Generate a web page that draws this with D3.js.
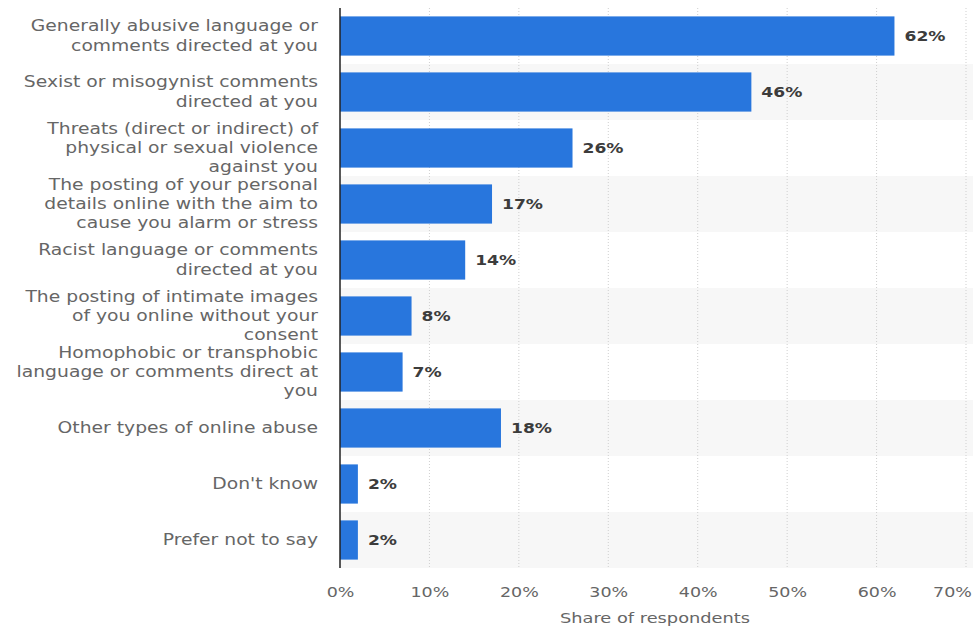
<!DOCTYPE html>
<html><head><meta charset="utf-8">
<script src="https://cdn.jsdelivr.net/npm/d3@7"></script>
<style>body{margin:0;background:#fff;}svg{display:block;}</style>
</head><body>
<svg id="chart" width="973" height="629"></svg>
<script>
const categories = [
  ["Generally abusive language or","comments directed at you"],
  ["Sexist or misogynist comments","directed at you"],
  ["Threats (direct or indirect) of","physical or sexual violence","against you"],
  ["The posting of your personal","details online with the aim to","cause you alarm or stress"],
  ["Racist language or comments","directed at you"],
  ["The posting of intimate images","of you online without your","consent"],
  ["Homophobic or transphobic","language or comments direct at","you"],
  ["Other types of online abuse"],
  ["Don't know"],
  ["Prefer not to say"]
];
const values = [62, 46, 26, 17, 14, 8, 7, 18, 2, 2];
const tickValues = [0, 10, 20, 30, 40, 50, 60, 70];
const axisTitle = "Share of respondents";

const svg = d3.select("#chart");
const margin = {left: 340, right: 7, top: 8, bottom: 61};
const W = 973, H = 629;
const SX = 1.25; // horizontal glyph stretch seen in reference
const x = d3.scaleLinear().domain([0, 70]).range([margin.left, W - margin.right]);
const y = d3.scaleBand().domain(d3.range(categories.length)).range([margin.top, H - margin.bottom]).paddingInner(0.3).paddingOuter(0.15);
const yRow = d3.scaleBand().domain(d3.range(categories.length)).range([margin.top, H - margin.bottom]);
const font = "'DejaVu Sans', Verdana, sans-serif";

// alternating row backgrounds
svg.append("g").selectAll("rect").data(values).join("rect")
  .attr("x", margin.left).attr("width", W - margin.left)
  .attr("y", (d,i) => yRow(i)).attr("height", yRow.bandwidth())
  .attr("fill", (d,i) => i % 2 ? "#f7f7f7" : "#ffffff");

// gridlines
svg.append("g").selectAll("line").data(tickValues.slice(1)).join("line")
  .attr("x1", d => x(d)).attr("x2", d => x(d))
  .attr("y1", margin.top).attr("y2", H - margin.bottom)
  .attr("stroke", "#cfcfcf").attr("stroke-width", 1).attr("stroke-dasharray", "1,2");

// bars
svg.append("g").selectAll("rect").data(values).join("rect")
  .attr("x", x(0)).attr("y", (d,i) => y(i))
  .attr("width", d => x(d) - x(0)).attr("height", y.bandwidth())
  .attr("fill", "#2876dd");

// value labels
svg.append("g").selectAll("text").data(values).join("text")
  .attr("transform", (d,i) => `translate(${x(d) + 10},${y(i) + y.bandwidth()/2}) scale(${SX * 0.98},1)`)
  .attr("dy", "0.35em")
  .attr("font-family", font).attr("font-size", 14).attr("font-weight", "bold")
  .attr("fill", "#3c3c3c")
  .text(d => d + "%");

// category labels
const lab = svg.append("g").selectAll("text").data(categories).join("text")
  .attr("font-family", font).attr("font-size", 15).attr("fill", "#666")
  .attr("text-anchor", "end");
lab.each(function(lines, i){
  const lh = lines.length > 2 ? 18.8 : 20.3;
  const cy = yRow(i) + yRow.bandwidth()/2;
  const start = cy - (lines.length - 1) * lh / 2;
  d3.select(this).attr("transform", `translate(318,${start}) scale(${SX},1)`);
  d3.select(this).selectAll("tspan").data(lines).join("tspan")
    .attr("x", 0).attr("y", (d,j) => j*lh).attr("dy", "0.35em").text(d => d);
});

// x axis
const xAxis = d3.axisBottom(x).tickValues(tickValues).tickFormat(d => d + "%").tickSize(0).tickPadding(0);
const ax = svg.append("g").attr("transform", `translate(0,${H - margin.bottom})`).call(xAxis);
ax.select(".domain").remove();
ax.selectAll(".tick text")
  .attr("x", null).attr("y", null).attr("dy", "0.35em")
  .attr("transform", d => `translate(${d === 70 ? -14 : 0},24) scale(${SX},1)`)
  .attr("font-family", font).attr("font-size", 14).attr("fill", "#666");

// axis title
svg.append("text")
  .attr("transform", `translate(${(x(0) + x(70))/2 + 2},618) scale(${SX + 0.02},1)`)
  .attr("dy", "0.35em")
  .attr("text-anchor", "middle").attr("font-family", font).attr("font-size", 14).attr("fill", "#666")
  .text(axisTitle);

// y axis line
svg.append("line").attr("x1", x(0)).attr("x2", x(0)).attr("y1", margin.top).attr("y2", H - margin.bottom)
  .attr("stroke", "#222").attr("stroke-width", 1.5);
</script>
</body></html>
